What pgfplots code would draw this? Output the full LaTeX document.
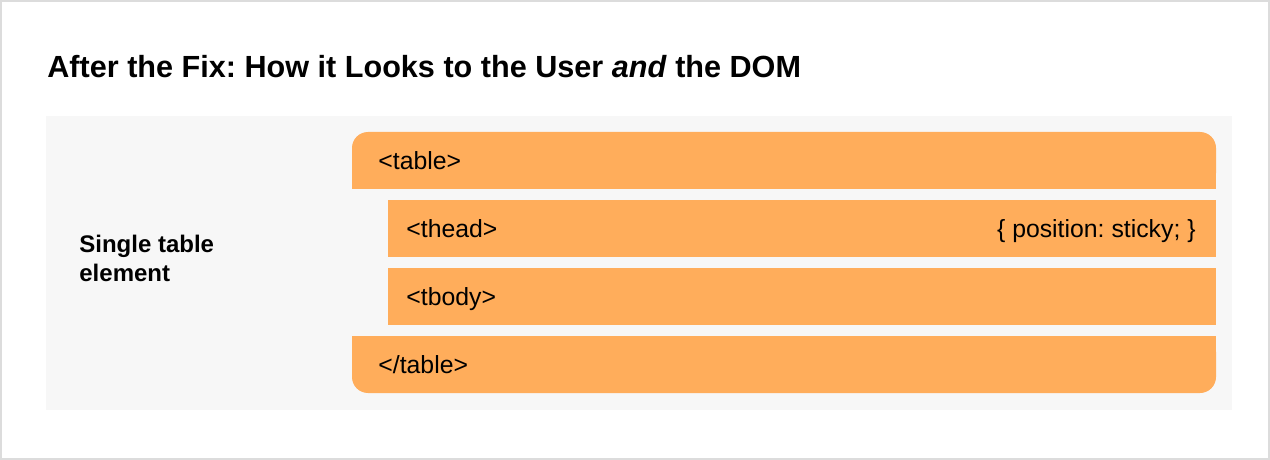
\documentclass[border=0pt]{standalone}
\usepackage{fontspec}
\setmainfont{Liberation Sans}
\usepackage{pgfplots}
\pgfplotsset{compat=1.18}
\definecolor{barorange}{HTML}{FFAD5B}
\definecolor{panelgray}{HTML}{F7F7F7}
\definecolor{framegray}{HTML}{DCDCDC}
\frenchspacing

\begin{document}
\begin{tikzpicture}
% 1 px of the reference = 0.5pt, y runs downwards
\begin{axis}[
  width=635pt, height=230pt, scale only axis,
  xmin=0, xmax=1270, ymin=0, ymax=460,
  y dir=reverse,
  hide axis,
  clip=true,
]
% frame and grey panel
\addplot[draw=framegray, line width=2pt, fill=white] coordinates {(0,0) (1270,0) (1270,460) (0,460)} -- cycle;
\addplot[draw=none, fill=panelgray] coordinates {(46,116) (1232,116) (1232,410) (46,410)} -- cycle;

% <table> bar, rounded top corners
\addplot[draw=none, fill=barorange, rounded corners=8pt] coordinates {(352,132) (1216,132) (1216,189) (352,189)} -- cycle;
\addplot[draw=none, fill=barorange] coordinates {(352,165) (1216,165) (1216,189) (352,189)} -- cycle;
% thead, tbody
\addplot[draw=none, fill=barorange] coordinates {(388,200) (1216,200) (1216,257) (388,257)} -- cycle;
\addplot[draw=none, fill=barorange] coordinates {(388,268) (1216,268) (1216,325) (388,325)} -- cycle;
% </table> bar, rounded bottom corners
\addplot[draw=none, fill=barorange, rounded corners=8pt] coordinates {(352,336) (1216,336) (1216,393) (352,393)} -- cycle;
\addplot[draw=none, fill=barorange] coordinates {(352,336) (1216,336) (1216,360) (352,360)} -- cycle;

% texts
\node[anchor=base west, inner sep=0pt, font=\fontsize{15.3}{18}\selectfont\bfseries] at (axis cs:47,78)
  {After the Fix: How it Looks to the User \textit{and} the DOM};
\node[anchor=base west, inner sep=0pt, font=\fontsize{12}{14}\selectfont\bfseries] at (axis cs:79,252.5) {Single table};
\node[anchor=base west, inner sep=0pt, font=\fontsize{12}{14}\selectfont\bfseries] at (axis cs:79,281.5) {element};

\node[anchor=base west, inner sep=0pt, font=\fontsize{12.4}{14}\selectfont] at (axis cs:378,169.5) {<table>};
\node[anchor=base west, inner sep=0pt, font=\fontsize{12.4}{14}\selectfont] at (axis cs:406,237.5) {<thead>};
\node[anchor=base east, inner sep=0pt, font=\fontsize{12.4}{14}\selectfont] at (axis cs:1196,237.5) {\{ position: sticky; \}};
\node[anchor=base west, inner sep=0pt, font=\fontsize{12.4}{14}\selectfont] at (axis cs:406,305.5) {<tbody>};
\node[anchor=base west, inner sep=0pt, font=\fontsize{12.4}{14}\selectfont] at (axis cs:378,373.5) {</table>};
\end{axis}
\pgfresetboundingbox
\path (current axis.south west) rectangle (current axis.north east);
\end{tikzpicture}
\end{document}
